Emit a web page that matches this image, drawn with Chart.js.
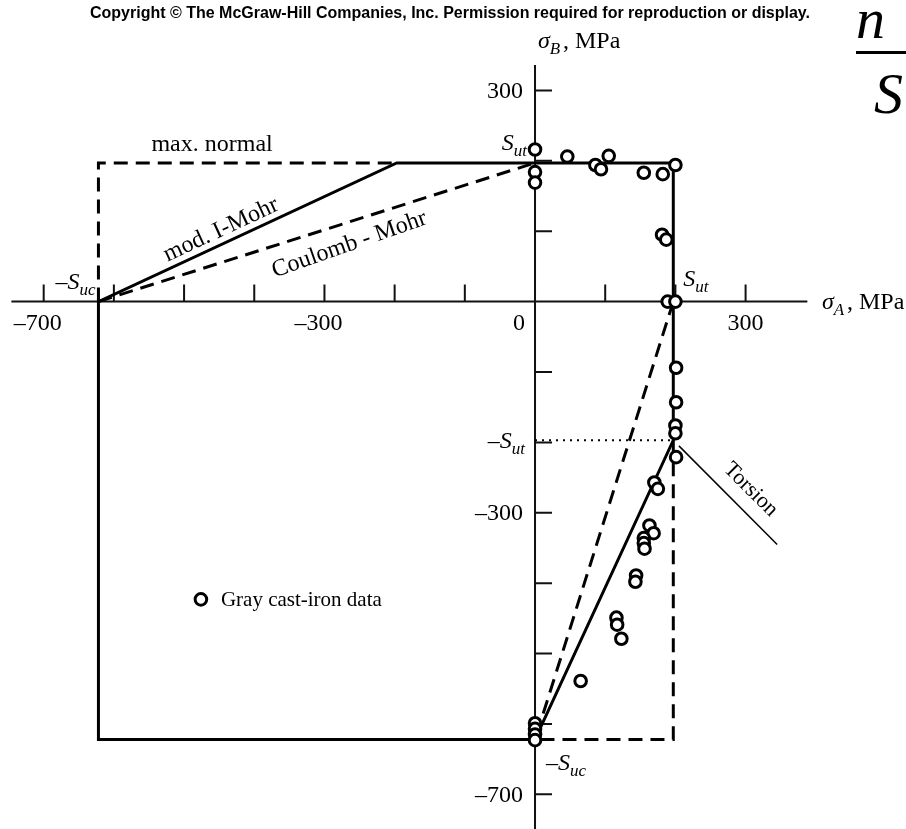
<!DOCTYPE html>
<html>
<head>
<meta charset="utf-8">
<script src="https://cdn.jsdelivr.net/npm/chart.js@4.4.1/dist/chart.umd.min.js"></script>
<style>
  html, body { margin: 0; padding: 0; background: #fff; }
  #wrap { position: relative; width: 906px; height: 829px; }
</style>
</head>
<body>
<div id="wrap"><canvas id="chart"></canvas></div>
<script>
// GRAY CAST IRON STRENGTHS (MPa)
var Sut = 197;
var Suc = 622;

// biaxial test results, principal stresses in MPa
var sigmaA = [0, 0, 0, 46, 86, 94, 105, 155, 182, 200, 181, 187, 189, 200,
              201, 201, 200, 200, 201, 170, 175, 163, 169, 155, 155, 156,
              144, 143, 116, 117, 123, 65, 0, 0, 0, 0];
var sigmaB = [216, 184, 169, 206, 194, 188, 207, 183, 181, 194, 95, 88, 0, 0,
              -94, -143, -176, -187, -221, -257, -266, -318, -329, -336, -343, -351,
              -389, -398, -449, -459, -479, -539, -599, -607, -615, -623];

// torsion load line sigmaB = -sigmaA
var torsionA = [205, 345];

// axes
var xTicks = [-700, -600, -500, -400, -300, -200, -100, 100, 200, 300];
var yTicks = [300, 200, 100, -100, -200, -300, -400, -500, -600, -700];
var xLabels = [-700, -300, 0, 300];
var yLabels = [300, -300, -700];
var xAxisRange = [-746, 388];
var yAxisTop = 336;

var serif = '"Liberation Serif", "Times New Roman", serif';

function pts(list) {
    return list.map(p => ({ x: p[0], y: p[1] }));
}

// envelope lines
var modMohr = pts([[0, -Suc], [-Suc, -Suc], [-Suc, 0], [-Sut, Sut], [Sut, Sut], [Sut, -Sut], [0, -Suc]]);
var maxNormalLeft = pts([[-Suc, 0], [-Suc, Sut], [-Sut, Sut]]);
var maxNormalRight = pts([[Sut, -Sut], [Sut, -Suc], [0, -Suc]]);
var coulombLeft = pts([[-Suc, 0], [0, Sut]]);
var coulombRight = pts([[Sut, 0], [0, -Suc]]);
var sutLevel = pts([[0, -Sut], [Sut, -Sut]]);
var torsion = torsionA.map(a => ({ x: a, y: -a }));

var testData = sigmaA.map((a, i) => ({ x: a, y: sigmaB[i] }));

function lineSet(data, width, dash) {
    return {
        data: data,
        showLine: true,
        borderColor: '#000',
        borderWidth: width,
        borderDash: dash || [],
        pointRadius: 0,
        fill: false,
        order: 1
    };
}

// text with an italic subscript, e.g. S_ut
function subText(ctx, x, y, pre, main, sub, align, size) {
    size = size || 24;
    var parts = [];
    if (pre) parts.push({ t: pre, f: size + 'px ' + serif, dy: 0 });
    parts.push({ t: main, f: 'italic ' + size + 'px ' + serif, dy: 0 });
    parts.push({ t: sub, f: 'italic ' + Math.round(size * 0.7) + 'px ' + serif, dy: Math.round(size * 0.25) });
    var total = 0;
    parts.forEach(p => { ctx.font = p.f; p.w = ctx.measureText(p.t).width; total += p.w; });
    var cx = align === 'right' ? x - total : (align === 'center' ? x - total / 2 : x);
    ctx.textAlign = 'left';
    ctx.textBaseline = 'alphabetic';
    parts.forEach(p => { ctx.font = p.f; ctx.fillText(p.t, cx, y + p.dy); cx += p.w; });
}

function rotatedText(ctx, text, x, y, angle, font) {
    ctx.save();
    ctx.translate(x, y);
    ctx.rotate(angle);
    ctx.font = font;
    ctx.textAlign = 'center';
    ctx.textBaseline = 'alphabetic';
    ctx.fillText(text, 0, 0);
    ctx.restore();
}

var axesPlugin = {
    id: 'sigmaAxes',
    beforeDatasetsDraw(chart) {
        var ctx = chart.ctx, xs = chart.scales.x, ys = chart.scales.y;
        var x0 = xs.getPixelForValue(0), y0 = ys.getPixelForValue(0);
        ctx.save();
        ctx.strokeStyle = '#111';
        ctx.lineWidth = 2;
        ctx.beginPath();
        ctx.moveTo(xs.getPixelForValue(xAxisRange[0]), y0);
        ctx.lineTo(xs.getPixelForValue(xAxisRange[1]), y0);
        ctx.moveTo(x0, ys.getPixelForValue(yAxisTop));
        ctx.lineTo(x0, chart.height);
        xTicks.forEach(v => {
            var px = xs.getPixelForValue(v);
            ctx.moveTo(px, y0);
            ctx.lineTo(px, y0 - 17);
        });
        yTicks.forEach(v => {
            var py = ys.getPixelForValue(v);
            ctx.moveTo(x0, py);
            ctx.lineTo(x0 + 17, py);
        });
        ctx.stroke();

        // tick labels
        ctx.fillStyle = '#000';
        ctx.font = '24px ' + serif;
        ctx.textBaseline = 'alphabetic';
        xLabels.forEach(v => {
            var px = xs.getPixelForValue(v);
            var digits = String(Math.abs(v));
            var w = ctx.measureText(digits).width;
            if (v === 0) px = x0 - 16;
            ctx.textAlign = 'left';
            ctx.fillText(digits, px - w / 2, y0 + 28);
            if (v < 0) {
                ctx.textAlign = 'right';
                ctx.fillText('\u2013', px - w / 2, y0 + 28);
            }
        });
        ctx.textAlign = 'right';
        ctx.textBaseline = 'middle';
        yLabels.forEach(v => {
            var label = v < 0 ? '\u2013' + Math.abs(v) : String(v);
            ctx.fillText(label, x0 - 12, ys.getPixelForValue(v) + 1);
        });
        ctx.restore();
    },
    afterDatasetsDraw(chart) {
        var ctx = chart.ctx, xs = chart.scales.x, ys = chart.scales.y;
        var x0 = xs.getPixelForValue(0), y0 = ys.getPixelForValue(0);
        var xSut = xs.getPixelForValue(Sut), ySut = ys.getPixelForValue(Sut);
        var xSuc = xs.getPixelForValue(-Suc), ySucN = ys.getPixelForValue(-Suc);
        var yNegSut = ys.getPixelForValue(-Sut);
        ctx.save();
        ctx.fillStyle = '#000';

        // header line
        ctx.font = 'bold 16px "Liberation Sans", Arial, sans-serif';
        ctx.textAlign = 'center';
        ctx.textBaseline = 'alphabetic';
        ctx.fillText('Copyright \u00a9 The McGraw-Hill Companies, Inc. Permission required for reproduction or display.', 450, 18, 730);

        // n / S fraction at the right edge
        ctx.font = 'italic 58px ' + serif;
        ctx.textAlign = 'left';
        ctx.fillText('n', 856, 38);
        ctx.fillText('S', 874, 113);
        ctx.fillRect(856, 51, 60, 3);

        // axis titles
        subText(ctx, 538, 48, '', '\u03c3', 'B', 'left', 24);
        ctx.font = '24px ' + serif;
        ctx.textAlign = 'left';
        ctx.fillText(', MPa', 563, 48);
        subText(ctx, 822, y0 + 7, '', '\u03c3', 'A', 'left', 24);
        ctx.font = '24px ' + serif;
        ctx.textAlign = 'left';
        ctx.fillText(', MPa', 847, y0 + 7);

        // strength labels
        subText(ctx, x0 - 8, ySut - 13, '', 'S', 'ut', 'right');
        subText(ctx, xSut + 10, y0 - 16, '', 'S', 'ut', 'left');
        subText(ctx, x0 - 10, yNegSut + 8, '\u2013', 'S', 'ut', 'right');
        subText(ctx, xSuc - 3, y0 - 13, '\u2013', 'S', 'uc', 'right');
        subText(ctx, x0 + 11, ySucN + 31, '\u2013', 'S', 'uc', 'left');

        // criterion names
        ctx.font = '24px ' + serif;
        ctx.textAlign = 'left';
        ctx.fillText('max. normal', xSuc + 53, ySut - 12);

        var font = '24px ' + serif;
        var ax = xSuc, ay = y0, bx = xs.getPixelForValue(-Sut), by = ySut;
        var ang = Math.atan2(by - ay, bx - ax);
        var t = 0.43, px = ax + (bx - ax) * t, py = ay + (by - ay) * t;
        rotatedText(ctx, 'mod. I-Mohr', px + 7 * Math.sin(ang), py - 7 * Math.cos(ang), ang, font);

        bx = x0; by = ySut;
        ang = Math.atan2(by - ay, bx - ax);
        t = 0.56; px = ax + (bx - ax) * t; py = ay + (by - ay) * t;
        rotatedText(ctx, 'Coulomb - Mohr', px - 28 * Math.sin(ang), py + 28 * Math.cos(ang), ang - 0.03, font);

        var tx = xs.getPixelForValue(290), ty = ys.getPixelForValue(-290);
        rotatedText(ctx, 'Torsion', tx + 8, ty - 12, Math.PI / 4, '22px ' + serif);

        // legend
        var lx = xs.getPixelForValue(-476), ly = ys.getPixelForValue(-423);
        ctx.beginPath();
        ctx.arc(lx, ly, 5.8, 0, Math.PI * 2);
        ctx.lineWidth = 3;
        ctx.strokeStyle = '#000';
        ctx.fillStyle = '#fff';
        ctx.fill();
        ctx.stroke();
        ctx.fillStyle = '#000';
        ctx.font = '21px ' + serif;
        ctx.textAlign = 'left';
        ctx.fillText('Gray cast-iron data', lx + 20, ly + 7);
        ctx.restore();
    }
};

var ctx = document.getElementById('chart').getContext('2d');
var failureChart = new Chart(ctx, {
    type: 'scatter',
    data: {
        datasets: [
            {
                label: 'Gray cast-iron data',
                data: testData,
                pointStyle: 'circle',
                pointRadius: 5.8,
                pointBorderWidth: 3,
                pointBackgroundColor: '#fff',
                pointBorderColor: '#000',
                showLine: false,
                order: 0
            },
            lineSet(modMohr, 3),
            lineSet(maxNormalLeft, 3, [14, 8]),
            lineSet(maxNormalRight, 3, [14, 8]),
            lineSet(coulombLeft, 3, [14, 8]),
            lineSet(coulombRight, 3, [14, 8]),
            lineSet(sutLevel, 2, [2, 5]),
            lineSet(torsion, 1.5)
        ]
    },
    options: {
        responsive: true,
        maintainAspectRatio: false,
        animation: false,
        layout: { padding: { left: 10, right: 6, top: 20, bottom: 10 } },
        plugins: { legend: { display: false }, tooltip: { enabled: false } },
        scales: {
            x: { type: 'linear', min: -748, max: 516, display: false },
            y: { type: 'linear', min: -735, max: 400, display: false }
        }
    },
    plugins: [axesPlugin]
});
</script>
</body>
</html>
